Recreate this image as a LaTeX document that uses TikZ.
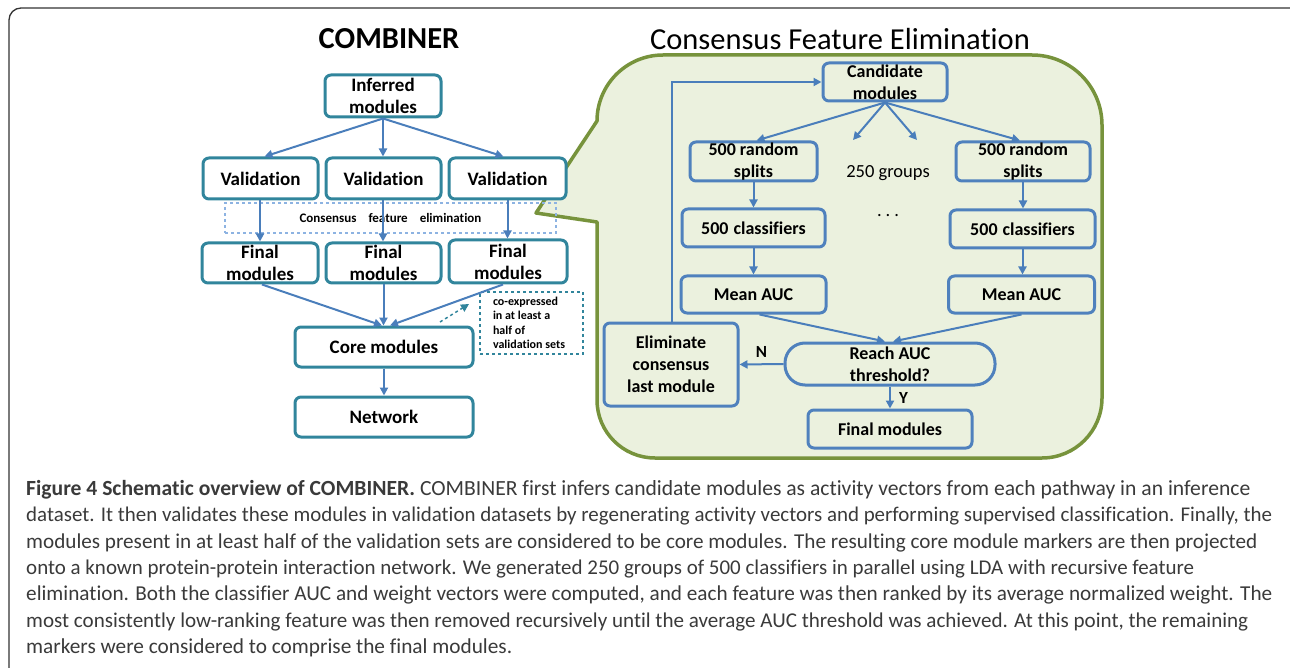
\documentclass[tikz,border=0pt]{standalone}
\usepackage{graphicx}
\usepackage{fontspec}
\setmainfont{Carlito}[Ligatures=NoCommon]
\usetikzlibrary{arrows.meta,calc}
\definecolor{tealb}{HTML}{31859C}
\definecolor{arrb}{HTML}{4A7EBB}
\definecolor{boxb}{HTML}{4F81BD}
\definecolor{dashb}{HTML}{8DB3E2}
\definecolor{gfill}{HTML}{EBF1DE}
\definecolor{gline}{HTML}{77933C}
\definecolor{frame}{HTML}{333333}
\definecolor{captxt}{HTML}{3A3A3A}
\tikzset{
  tbox/.style={draw=tealb, line width=3pt, rounded corners=6pt, fill=white, align=center,
    inner sep=0pt, font=\bfseries\fontsize{19}{22}\selectfont},
  bbox/.style={draw=boxb, line width=3pt, rounded corners=6pt, align=center,
    inner sep=0pt, font=\bfseries\fontsize{18}{22}\selectfont},
  arr/.style={draw=arrb, line width=2pt, -{Triangle[length=8pt,width=8pt]}},
  capline/.style={anchor=west, inner sep=0pt, text=captxt, font=\fontsize{21.3}{24}\selectfont},
  lbl/.style={inner sep=0pt, font=\bfseries\fontsize{17}{20}\selectfont},
}
\begin{document}
\begin{tikzpicture}[x=1pt,y=-1pt]
\useasboundingbox (0,0) rectangle (1290,668);
% outer frame
\draw[frame, line width=1.3pt] (9,668) -- (9,20) arc[start angle=180,end angle=270,radius=12] -- (1290,8);

% titles
\node[inner sep=0pt, font=\bfseries\fontsize{30.5}{34}\selectfont] (t1) at (389,39) {COMBINER};
\node[inner sep=0pt, font=\fontsize{30.5}{34}\selectfont] (t2) at (840,39) {Consensus Feature Elimination};

% green callout region
\draw[gline, fill=gfill, line width=3.5pt, line join=round]
  (536,213) -- (597,121) arc[start angle=180,end angle=270,radius=66]
  -- (1032,55) arc[start angle=270,end angle=360,radius=70]
  -- (1102,398) arc[start angle=0,end angle=90,radius=60]
  -- (655,458) arc[start angle=90,end angle=180,radius=58]
  -- (597,222) -- cycle;

% ---------- COMBINER ----------
\node[tbox, minimum width=116pt, minimum height=42pt] (inf) at (383,96) {Inferred\\modules};
\node[tbox, minimum width=115pt, minimum height=41pt] (v1) at (260.5,178.5) {Validation};
\node[tbox, minimum width=115pt, minimum height=41pt] (v2) at (383.5,178.5) {Validation};
\node[tbox, minimum width=117pt, minimum height=41pt] (v3) at (507.5,178.5) {Validation};
\node[draw=dashb, dashed, line width=1.3pt, minimum width=331pt, minimum height=30pt, inner sep=0pt,
  font=\bfseries\fontsize{13}{15}\selectfont] (cfe) at (390.5,218)
  {Consensus\hspace{12pt}feature\hspace{12pt}elimination};
\node[tbox, minimum width=116pt, minimum height=40pt] (f1) at (260,263) {Final\\modules};
\node[tbox, minimum width=115pt, minimum height=40pt] (f2) at (383.5,263) {Final\\modules};
\node[tbox, minimum width=118pt, minimum height=43pt] (f3) at (508,261.5) {Final\\modules};
\node[tbox, minimum width=178pt, minimum height=40pt] (core) at (384,347) {Core modules};
\node[tbox, minimum width=178pt, minimum height=40pt] (net) at (384,417) {Network};
\node[draw=tealb, dashed, line width=1.5pt, minimum width=103pt, minimum height=62pt] (cobox) at (531.5,323) {};
\node[align=left, inner sep=0pt, font=\bfseries\fontsize{12}{14.5}\selectfont] (cotxt) at (529,323)
  {co-expressed\\in at least a\\half of\\validation sets};
\coordinate (da1) at (440,322);
\coordinate (da2) at (469,304);

\draw[arr] (inf.south) -- ([xshift=4pt]v1.north);
\draw[arr] (inf.south) -- (inf.south |- v2.north);
\draw[arr] (inf.south) -- ([xshift=-4pt]v3.north);
\draw[arr] ([xshift=-0.5pt]v1.south) -- ([xshift=-0.5pt]v1.south |- f1.north);
\draw[arr] ([xshift=-0.5pt]v2.south) -- ([xshift=-0.5pt]v2.south |- f2.north);
\draw[arr] (v3.south) -- (v3.south |- f3.north);
\draw[arr] ([xshift=2pt]f1.south) -- ([xshift=-2pt]core.north);
\draw[arr] (f2.south) -- (f2.south |- core.north);
\draw[arr] ([xshift=-5pt]f3.south) -- ([xshift=6pt]core.north);
\draw[arr] (core.south) -- (net.north);
\draw[draw=tealb, dashed, line width=1.5pt, -{Triangle[length=8pt,width=8pt]}] (da1) -- (da2);

% ---------- Consensus Feature Elimination ----------
\node[bbox, minimum width=124pt, minimum height=38pt] (cand) at (885,82) {Candidate\\modules};
\node[bbox, minimum width=127pt, minimum height=39pt] (s1) at (753.5,161.5) {500 random\\splits};
\node[bbox, minimum width=134pt, minimum height=39pt] (s2) at (1023,161.5) {500 random\\splits};
\node[inner sep=0pt, font=\fontsize{18.5}{22}\selectfont] (grp) at (888,173) {250 groups};
\node[inner sep=0pt, font=\fontsize{18.5}{22}\selectfont] (dots) at (888,216) {.\hspace{4pt}.\hspace{4pt}.};
\node[bbox, minimum width=143pt, minimum height=38pt] (c1) at (753.5,228) {500\hspace{5pt}classifiers};
\node[bbox, minimum width=145pt, minimum height=38pt] (c2) at (1022.5,229) {500\hspace{5pt}classifiers};
\node[bbox, minimum width=145pt, minimum height=37pt] (m1) at (753.5,294.5) {Mean AUC};
\node[bbox, minimum width=146pt, minimum height=37pt] (m2) at (1021.5,294.5) {Mean AUC};
\node[bbox, rounded corners=20pt, minimum width=210pt, minimum height=42pt] (reach) at (890,364) {Reach AUC\\threshold?};
\node[bbox, minimum width=134pt, minimum height=83pt] (elim) at (671,364.5) {Eliminate\\consensus\\last module};
\node[bbox, minimum width=164pt, minimum height=38pt] (fin) at (890,429) {Final modules};
\coordinate (g1) at (853,140);
\coordinate (g2) at (917,140);

\draw[arr] (cand.south) -- ([xshift=3pt]s1.north);
\draw[arr] (cand.south) -- (g1);
\draw[arr] (cand.south) -- (g2);
\draw[arr] (cand.south) -- ([xshift=-3pt]s2.north);
\draw[arr] (s1.south) -- (s1.south |- c1.north);
\draw[arr] (s2.south) -- (s2.south |- c2.north);
\draw[arr] (c1.south) -- (c1.south |- m1.north);
\draw[arr] (c2.south) -- (c2.south |- m2.north);
\draw[arr] ([xshift=6pt]m1.south) -- ([xshift=-5pt]reach.north);
\draw[arr] (m2.south) -- ([xshift=3pt]reach.north);
\draw[arr] (reach.west) -- (elim.east) node[lbl, midway, above=6pt] (nlbl) {N};
\draw[arr] (reach.south) -- (fin.north) node[lbl, midway, right=8pt] (ylbl) {Y};
\draw[arr] ([xshift=1pt]elim.north) |- (cand.west);

% ---------- caption ----------
\node[capline] (cap1) at (26,490) {\resizebox{1224pt}{!}{\textbf{Figure 4 Schematic overview of COMBINER.} COMBINER first infers candidate modules as activity vectors from each pathway in an inference}};
\node[capline] (cap2) at (26,516.3) {\resizebox{1246pt}{!}{dataset. It then validates these modules in validation datasets by regenerating activity vectors and performing supervised classification. Finally, the}};
\node[capline] (cap3) at (26,542.6) {\resizebox{1231pt}{!}{modules present in at least half of the validation sets are considered to be core modules. The resulting core module markers are then projected}};
\node[capline] (cap4) at (26,568.9) {\resizebox{1168pt}{!}{onto a known protein-protein interaction network. We generated 250 groups of 500 classifiers in parallel using LDA with recursive feature}};
\node[capline] (cap5) at (26,595.2) {\resizebox{1246pt}{!}{elimination. Both the classifier AUC and weight vectors were computed, and each feature was then ranked by its average normalized weight. The}};
\node[capline] (cap6) at (26,621.5) {\resizebox{1222pt}{!}{most consistently low-ranking feature was then removed recursively until the average AUC threshold was achieved. At this point, the remaining}};
\node[capline] (cap7) at (26,647.8) {markers were considered to comprise the final modules.};
\end{tikzpicture}
\end{document}
